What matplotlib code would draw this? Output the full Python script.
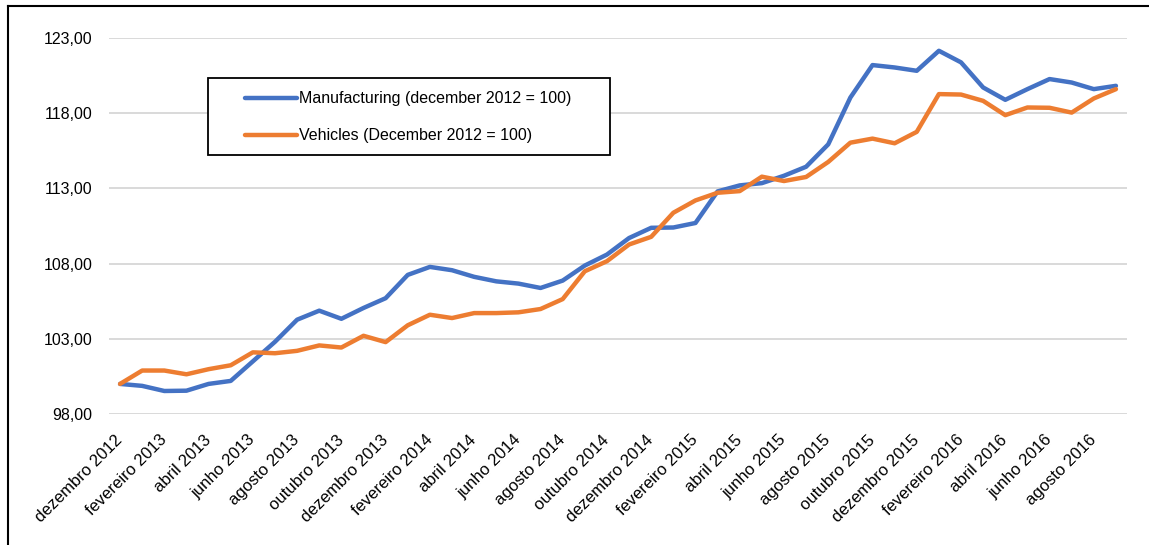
import matplotlib
matplotlib.use("Agg")
from matplotlib import pyplot as plt
from matplotlib.lines import Line2D
from matplotlib.patches import Rectangle
from matplotlib.ticker import FuncFormatter

plt.rcParams['font.family'] = ['Liberation Sans', 'DejaVu Sans']

months = ["dezembro", "janeiro", "fevereiro", "março", "abril", "maio", "junho",
          "julho", "agosto", "setembro", "outubro", "novembro"]
periods = [f"{months[(i) % 12]} {2012 + (i + 11) // 12}" for i in range(46)]

manufacturing = [
    100.00, 99.87, 99.53, 99.55, 100.00, 100.20, 101.50, 102.80, 104.27, 104.87,
    104.33, 105.05, 105.70, 107.25, 107.78, 107.56, 107.12, 106.82, 106.67, 106.38,
    106.87, 107.87, 108.60, 109.70, 110.38, 110.40, 110.70, 112.80, 113.20, 113.35,
    113.84, 114.44, 115.93, 119.04, 121.20, 121.04, 120.82, 122.15, 121.38, 119.71,
    118.89, 119.60, 120.27, 120.04, 119.60, 119.82,
]
vehicles = [
    100.00, 100.89, 100.89, 100.64, 100.98, 101.24, 102.10, 102.04, 102.20, 102.56,
    102.42, 103.20, 102.78, 103.90, 104.60, 104.38, 104.71, 104.71, 104.76, 104.98,
    105.64, 107.49, 108.16, 109.27, 109.78, 111.38, 112.20, 112.71, 112.82, 113.78,
    113.49, 113.76, 114.76, 116.04, 116.31, 116.00, 116.76, 119.27, 119.24, 118.82,
    117.87, 118.38, 118.36, 118.04, 118.98, 119.60,
]
labels = ["Manufacturing (december 2012 = 100)", "Vehicles (December 2012 = 100)"]
colors = ["#4472C4", "#ED7D31"]

W, H = 1149, 545
fig = plt.figure(figsize=(W / 100, H / 100), dpi=100)
ax = fig.add_axes([109 / W, (H - 414) / H, 1018 / W, 376 / H])

x = range(len(periods))
ax.plot(x, manufacturing, color=colors[0], lw=3.2, solid_capstyle="round", solid_joinstyle="round")
ax.plot(x, vehicles, color=colors[1], lw=3.2, solid_capstyle="round", solid_joinstyle="round")

ax.set_xlim(-0.5, len(periods) - 0.5)
ax.set_ylim(98, 123)
ax.set_yticks([98, 103, 108, 113, 118, 123])
ax.yaxis.set_major_formatter(FuncFormatter(lambda v, p: f"{v:.2f}".replace(".", ",")))
ax.grid(axis="y", color="#d9d9d9", lw=1.4)
ax.set_axisbelow(True)
for s in ax.spines.values():
    s.set_visible(False)

ax.set_xticks(list(x)[::2])
ax.set_xticklabels(periods[::2], rotation=45, ha="right", va="center",
                   rotation_mode="anchor", fontsize=12)
ax.tick_params(axis="x", length=0, pad=17)
ax.tick_params(axis="y", length=0, pad=12, labelsize=11.5)

# legend box drawn by hand to match the placement
fig.add_artist(Rectangle((208 / W, 1 - 155 / H), 402 / W, 77 / H, transform=fig.transFigure,
                         facecolor="white", edgecolor="black", lw=1.3))
for k, yy in enumerate([98, 135]):
    fig.add_artist(Line2D([245 / W, 297 / W], [1 - yy / H, 1 - yy / H], transform=fig.transFigure,
                          color=colors[k], lw=3.2, solid_capstyle="round"))
    fig.text(299 / W, 1 - yy / H, labels[k], fontsize=11.5, va="center", ha="left")

# page frame
fig.add_artist(Line2D([8 / W, 8 / W], [0, 1 - 6 / H], transform=fig.transFigure, color="black", lw=1.5))
fig.add_artist(Line2D([8 / W, 1], [1 - 6 / H, 1 - 6 / H], transform=fig.transFigure, color="black", lw=1.5))

fig.savefig("out.png", dpi=100)
